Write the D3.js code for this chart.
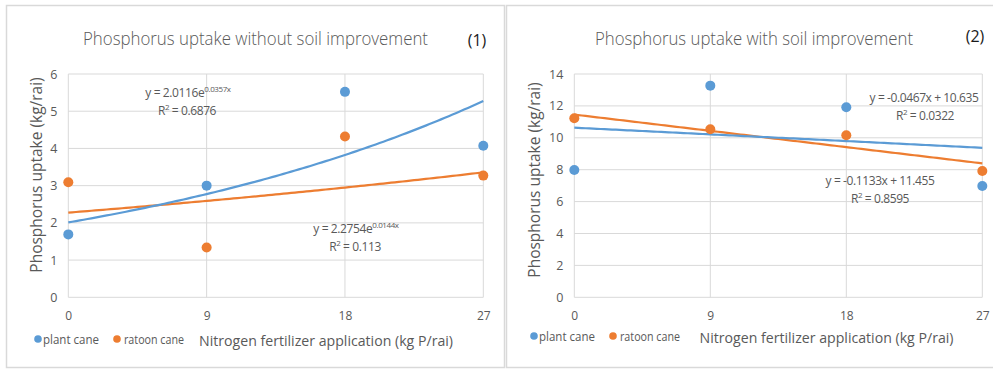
<!DOCTYPE html>
<html>
<head>
<meta charset="utf-8">
<script src="https://cdn.jsdelivr.net/npm/d3@7"></script>
<style>
  html, body { margin: 0; padding: 0; background: #ffffff; }
  svg { display: block; font-family: "Open Sans", "Noto Sans", sans-serif; }
</style>
</head>
<body>
<svg id="chart" width="993" height="370"></svg>
<script>
// Nitrogen fertilizer rates (x values)
const rates = [0, 9, 18, 27];
const xTicks = [0, 9, 18, 27];

// Panel 1: without soil improvement
const plantNoImp = [1.69, 3.0, 5.52, 4.07];
const ratoonNoImp = [3.09, 1.34, 4.32, 3.27];
const yTicksNoImp = [0, 1, 2, 3, 4, 5, 6];
// exponential trends y = a * e^(b x), plus R²
const plantNoImpTrend = [2.0116, 0.0357, 0.6876];
const ratoonNoImpTrend = [2.2754, 0.0144, 0.113];

// Panel 2: with soil improvement
const plantImp = [7.98, 13.27, 11.92, 6.98];
const ratoonImp = [11.23, 10.54, 10.16, 7.92];
const yTicksImp = [0, 2, 4, 6, 8, 10, 12, 14];
// linear trends y = m x + c, plus R²
const plantImpTrend = [-0.0467, 10.635, 0.0322];
const ratoonImpTrend = [-0.1133, 11.455, 0.8595];

const BLUE = "#5b9bd5", ORANGE = "#ed7d31", GRID = "#d9d9d9", TXT = "#595959";
const svg = d3.select("#chart");

// panel frames
svg.append("rect").attr("x", 6.5).attr("y", 5.5).attr("width", 498).attr("height", 362)
  .attr("fill", "none").attr("stroke", GRID).attr("stroke-width", 1.5);
svg.append("rect").attr("x", 506.5).attr("y", 5.5).attr("width", 495).attr("height", 362)
  .attr("fill", "none").attr("stroke", GRID).attr("stroke-width", 1.5);

function fmt(v) { return String(v); }

function drawPanel(cfg) {
  const g = svg.append("g");
  const x = d3.scaleLinear().domain([0, 27]).range(cfg.xr);
  const y = d3.scaleLinear().domain([0, d3.max(cfg.yTicks)]).range([297.3, 74]);

  // gridlines
  g.append("g").selectAll("line").data(cfg.yTicks).join("line")
    .attr("x1", x(0)).attr("x2", x(27)).attr("y1", d => y(d)).attr("y2", d => y(d))
    .attr("stroke", GRID).attr("stroke-width", 1);
  g.append("g").selectAll("line").data(xTicks).join("line")
    .attr("x1", d => x(d)).attr("x2", d => x(d)).attr("y1", y(0)).attr("y2", y(d3.max(cfg.yTicks)))
    .attr("stroke", GRID).attr("stroke-width", 1);

  // axes
  const yAxis = d3.axisLeft(y).tickValues(cfg.yTicks).tickSize(0).tickPadding(11).tickFormat(fmt);
  const ya = g.append("g").attr("transform", `translate(${x(0)},0)`).call(yAxis);
  ya.select(".domain").remove();
  ya.selectAll("text").attr("fill", TXT).style("font-size", "12.5px").style("font-family", "'Open Sans', sans-serif");

  const xAxis = d3.axisBottom(x).tickValues(xTicks).tickSize(0).tickPadding(14).tickFormat(fmt);
  const xa = g.append("g").attr("transform", `translate(0,${y(0)})`).call(xAxis);
  xa.select(".domain").remove();
  xa.selectAll("text").attr("fill", TXT).style("font-size", "12px").style("font-family", "'Open Sans', sans-serif");

  // trend lines
  const xs = d3.range(0, 27.001, 0.25);
  const line = d3.line().x(d => x(d)).y(d => y(cfg.trendFn(cfg.plantTrend, d)));
  const line2 = d3.line().x(d => x(d)).y(d => y(cfg.trendFn(cfg.ratoonTrend, d)));
  g.append("path").attr("d", line2(xs)).attr("fill", "none").attr("stroke", ORANGE).attr("stroke-width", 2.2);
  g.append("path").attr("d", line(xs)).attr("fill", "none").attr("stroke", BLUE).attr("stroke-width", 2.2);

  // points
  g.append("g").selectAll("circle").data(rates).join("circle")
    .attr("cx", d => x(d)).attr("cy", (d, i) => y(cfg.plant[i])).attr("r", 5).attr("fill", BLUE);
  g.append("g").selectAll("circle").data(rates).join("circle")
    .attr("cx", d => x(d)).attr("cy", (d, i) => y(cfg.ratoon[i])).attr("r", 5).attr("fill", ORANGE);

  // title and panel number
  g.append("text").attr("x", cfg.titleX).attr("y", 45).attr("text-anchor", "middle")
    .attr("fill", TXT).style("font-size", "17.5px").style("font-weight", 300)
    .attr("textLength", cfg.titleLen).attr("lengthAdjust", "spacingAndGlyphs").text(cfg.title);
  g.append("text").attr("x", cfg.numX).attr("y", cfg.numY).attr("text-anchor", "middle")
    .attr("fill", "#1a1a1a").style("font-size", "16px").text(cfg.num);

  // y axis title
  g.append("text").attr("transform", `translate(${cfg.yTitleX},${cfg.yTitleY}) rotate(-90)`)
    .attr("text-anchor", "middle").attr("fill", TXT).style("font-size", "15.5px")
    .text("Phosphorus uptake (kg/rai)");

  // legend
  const lg = g.append("g").attr("transform", `translate(${cfg.legX},${cfg.legY})`);
  lg.append("circle").attr("cx", 0).attr("cy", 0).attr("r", 3.8).attr("fill", BLUE);
  lg.append("text").attr("x", 5).attr("y", 4.5).attr("fill", TXT).style("font-size", "13.5px")
    .attr("textLength", 56).attr("lengthAdjust", "spacingAndGlyphs").text("plant cane");
  lg.append("circle").attr("cx", 79).attr("cy", 0).attr("r", 3.8).attr("fill", ORANGE);
  lg.append("text").attr("x", 86).attr("y", 4.5).attr("fill", TXT).style("font-size", "13.5px")
    .attr("textLength", 60).attr("lengthAdjust", "spacingAndGlyphs").text("ratoon cane");

  // x axis title
  g.append("text").attr("x", cfg.xTitleX).attr("y", cfg.legY + 6.5).attr("text-anchor", "middle")
    .attr("fill", TXT).style("font-size", "15px")
    .attr("textLength", 254).attr("lengthAdjust", "spacingAndGlyphs")
    .text("Nitrogen fertilizer application (kg P/rai)");

  // equation labels
  cfg.labels.forEach(l => {
    const t = g.append("text").attr("x", l.x).attr("y", l.y).attr("text-anchor", "middle")
      .attr("fill", TXT).style("font-size", "12px").style("letter-spacing", "-0.4px");
    l.parts.forEach(p => {
      const s = t.append("tspan").text(p.t);
      if (p.sup) s.attr("dy", -5).style("font-size", "8px");
    });
    g.append("text").attr("x", l.rx).attr("y", l.y + 18).attr("text-anchor", "middle")
      .attr("fill", TXT).style("font-size", "12px").style("letter-spacing", "-0.4px")
      .call(tt => {
        tt.append("tspan").text("R");
        tt.append("tspan").attr("dy", -5).style("font-size", "8px").text("2");
        tt.append("tspan").attr("dy", 5).text(" = " + l.r2);
      });
  });
}

const expFn = (c, xv) => c[0] * Math.exp(c[1] * xv);
const linFn = (c, xv) => c[0] * xv + c[1];

drawPanel({
  xr: [68.3, 483.3], yTicks: yTicksNoImp,
  plant: plantNoImp, ratoon: ratoonNoImp,
  plantTrend: plantNoImpTrend, ratoonTrend: ratoonNoImpTrend, trendFn: expFn,
  title: "Phosphorus uptake without soil improvement", titleX: 255.5, titleLen: 345,
  num: "(1)", numX: 477, numY: 46,
  yTitleX: 42, yTitleY: 175, legX: 38, legY: 339, xTitleX: 326,
  labels: [
    { x: 188, rx: 187, y: 97, r2: plantNoImpTrend[2],
      parts: [{ t: "y = " + plantNoImpTrend[0] + "e" }, { t: plantNoImpTrend[1] + "x", sup: true }] },
    { x: 356, rx: 355, y: 233, r2: ratoonNoImpTrend[2],
      parts: [{ t: "y = " + ratoonNoImpTrend[0] + "e" }, { t: ratoonNoImpTrend[1] + "x", sup: true }] }
  ]
});

drawPanel({
  xr: [574.3, 982.3], yTicks: yTicksImp,
  plant: plantImp, ratoon: ratoonImp,
  plantTrend: plantImpTrend, ratoonTrend: ratoonImpTrend, trendFn: linFn,
  title: "Phosphorus uptake with soil improvement", titleX: 754, titleLen: 318,
  num: "(2)", numX: 975, numY: 42,
  yTitleX: 540, yTitleY: 180, legX: 534, legY: 336, xTitleX: 826.5,
  labels: [
    { x: 924, rx: 925, y: 102, r2: plantImpTrend[2],
      parts: [{ t: "y = " + plantImpTrend[0] + "x + " + plantImpTrend[1] }] },
    { x: 880, rx: 880, y: 185, r2: ratoonImpTrend[2],
      parts: [{ t: "y = " + ratoonImpTrend[0] + "x + " + ratoonImpTrend[1] }] }
  ]
});
</script>
</body>
</html>
